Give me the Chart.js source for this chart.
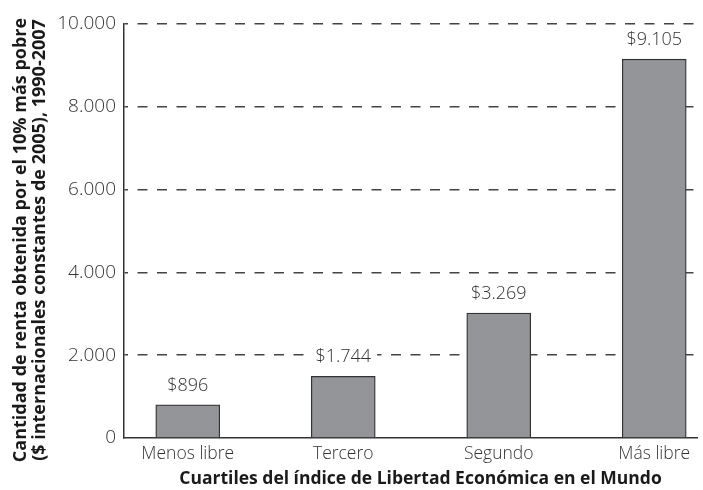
<!DOCTYPE html>
<html>
<head>
<meta charset="utf-8">
<script src="https://cdn.jsdelivr.net/npm/chart.js@4"></script>
<style>
  html, body { margin: 0; padding: 0; background: #fff; }
  #wrap { width: 703px; height: 490px; position: relative; }
</style>
</head>
<body>
<div id="wrap"><canvas id="c" width="703" height="490"></canvas></div>
<script>
const categories = ['Menos libre', 'Tercero', 'Segundo', 'Más libre'];
const barValues = [800, 1490, 3020, 9150];
const valueLabels = ['$896', '$1.744', '$3.269', '$9.105'];
const yTicks = [0, 2000, 4000, 6000, 8000, 10000];
const yTickLabels = ['0', '2.000', '4.000', '6.000', '8.000', '10.000'];
const yTitle = ['Cantidad de renta obtenida por el 10% más pobre', '($ internacionales constantes de 2005), 1990-2007'];
const xTitle = 'Cuartiles del índice de Libertad Económica en el Mundo';

const TEXT = '#333333';
const FONT = "'Open Sans', 'DejaVu Sans', sans-serif";

const labelPlugin = {
  id: 'valueLabels',
  afterDatasetsDraw(chart) {
    const ctx = chart.ctx;
    const meta = chart.getDatasetMeta(0);
    ctx.save();
    ctx.font = "300 18px " + FONT;
    ctx.textAlign = 'center';
    ctx.textBaseline = 'middle';
    meta.data.forEach((bar, i) => {
      const w = ctx.measureText(valueLabels[i]).width;
      ctx.fillStyle = '#ffffff';
      ctx.fillRect(bar.x - w / 2 - 6, bar.y - 19 - 11, w + 12, 22);
      ctx.fillStyle = TEXT;
      ctx.fillText(valueLabels[i], bar.x, bar.y - 19);
    });
    ctx.restore();
  }
};

const titlePlugin = {
  id: 'axisTitles',
  afterDraw(chart) {
    const ctx = chart.ctx;
    const area = chart.chartArea;
    ctx.save();
    ctx.fillStyle = '#1a1a1a';
    ctx.textAlign = 'center';
    ctx.textBaseline = 'middle';
    // y title (rotated, two lines)
    ctx.font = "bold 18px " + FONT;
    const cy = (area.top + area.bottom) / 2 + 9;
    [21, 40].forEach((x, i) => {
      ctx.save();
      ctx.translate(x, cy);
      ctx.rotate(-Math.PI / 2);
      ctx.fillText(yTitle[i], 0, 0);
      ctx.restore();
    });
    // x title
    ctx.font = "bold 17.5px " + FONT;
    ctx.fillText(xTitle, (area.left + area.right) / 2 + 10, 479);
    ctx.restore();
  }
};

new Chart(document.getElementById('c'), {
  type: 'bar',
  data: {
    datasets: [{
      data: barValues.map((v, i) => ({ x: i, y: v })),
      backgroundColor: '#939598',
      borderColor: '#333333',
      borderWidth: 1.3,
      barThickness: 64
    }]
  },
  options: {
    responsive: false,
    animation: false,
    devicePixelRatio: 1,
    layout: { padding: { top: 24, right: 6, left: 0, bottom: 0 } },
    plugins: { legend: { display: false }, tooltip: { enabled: false } },
    scales: {
      x: {
        type: 'linear',
        offset: false,
        min: -0.41,
        max: 3.275,
        afterBuildTicks: s => { s.ticks = categories.map((_, i) => ({ value: i })); },
        afterFit: s => { s.height = 52; },
        ticks: {
          autoSkip: false,
          maxRotation: 0,
          padding: 6,
          color: TEXT,
          font: { family: FONT, size: 17.5, weight: '300' },
          callback: (v) => categories[v] !== undefined ? categories[v] : ''
        },
        grid: { display: false, drawTicks: false, offset: false },
        border: { display: true, color: '#333', width: 1.5 },
        title: { display: false }
      },
      y: {
        min: 0,
        max: 10000,
        afterBuildTicks: s => { s.ticks = yTicks.map(v => ({ value: v })); },
        afterFit: s => { s.width = 124; },
        ticks: {
          padding: 8,
          color: TEXT,
          font: { family: FONT, size: 19, weight: '300' },
          callback: (v) => yTickLabels[yTicks.indexOf(v)]
        },
        grid: {
          drawTicks: false,
          color: ctx => (ctx.tick && ctx.tick.value === 0) ? 'rgba(0,0,0,0)' : '#444',
          lineWidth: 1.5
        },
        border: { display: true, color: '#333', width: 1.5, dash: [10, 9.5], dashOffset: -13 },
        title: { display: false }
      }
    }
  },
  plugins: [labelPlugin, titlePlugin]
});
</script>
</body>
</html>
